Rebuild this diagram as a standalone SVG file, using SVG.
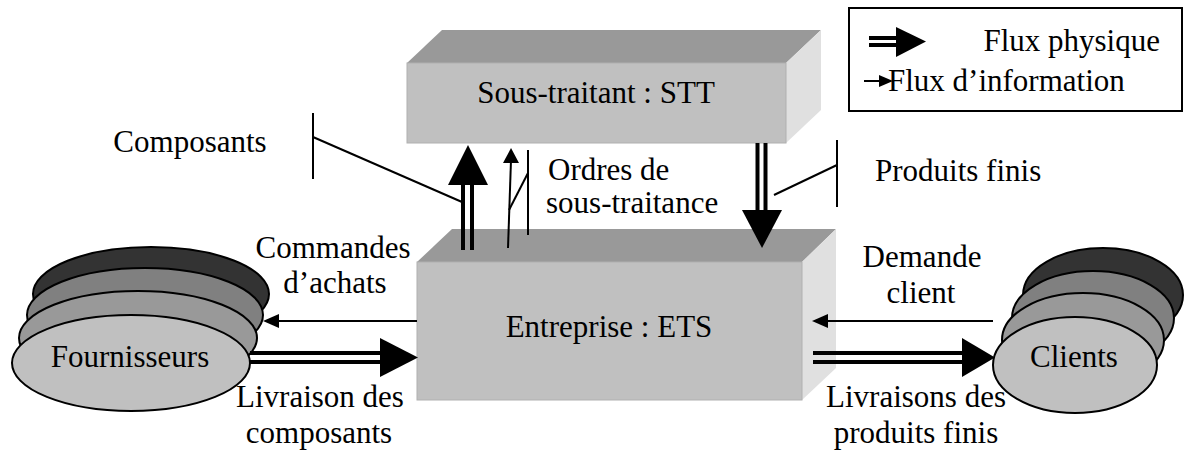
<svg xmlns="http://www.w3.org/2000/svg" width="1187" height="450" viewBox="0 0 1187 450">
  <style>
    text { font-family: "Liberation Serif", "Times New Roman", Times, serif; font-size: 31px; fill: #000; }
    .m { text-anchor: middle; }
    .front { fill: #c0c0c0; stroke: #b0b0b0; stroke-width: 1; }
    .top { fill: #999999; }
    .side { fill: #e0e0e0; }
    .ell { stroke: #000; stroke-width: 2; }
    .thin { stroke: #000; stroke-width: 2; fill: none; }
    .thick { stroke: #000; stroke-width: 4; fill: none; }
    .head { fill: #000; }
  </style>
  <rect width="1187" height="450" fill="#fff"/>

  <g id="stt">
    <polygon class="top" points="407,63 442,30 821,30 786,63"/>
    <polygon class="side" points="786,63 821,30 821,110 786,143"/>
    <rect class="front" x="407" y="63" width="379" height="80"/>
    <text class="m" x="596" y="103">Sous-traitant : STT</text>
  </g>

  <g id="ets">
    <polygon class="top" points="417,262 452,229 836,229 802,262"/>
    <polygon class="side" points="802,262 836,229 836,368 802,400"/>
    <rect class="front" x="417" y="262" width="385" height="138"/>
    <text class="m" x="609" y="337">Entreprise : ETS</text>
  </g>

  <g id="fournisseurs">
    <ellipse class="ell" cx="151" cy="294" rx="118" ry="47" fill="#333333"/>
    <ellipse class="ell" cx="145" cy="315" rx="118" ry="47" fill="#808080"/>
    <ellipse class="ell" cx="138" cy="338" rx="119" ry="47" fill="#999999"/>
    <ellipse class="ell" cx="131" cy="363" rx="119" ry="48" fill="#c0c0c0"/>
    <text class="m" x="130" y="367">Fournisseurs</text>
  </g>

  <g id="clients">
    <ellipse class="ell" cx="1103" cy="295" rx="80" ry="47" fill="#333333"/>
    <ellipse class="ell" cx="1093" cy="318" rx="81" ry="47" fill="#808080"/>
    <ellipse class="ell" cx="1083" cy="340" rx="81" ry="47" fill="#999999"/>
    <ellipse class="ell" cx="1075" cy="365" rx="82" ry="48" fill="#c0c0c0"/>
    <text class="m" x="1074" y="367">Clients</text>
  </g>

  <g id="connectors">
    <line class="thick" x1="463" y1="250" x2="463" y2="184"/>
    <line class="thick" x1="472" y1="250" x2="472" y2="184"/>
    <polygon class="head" points="448,185 488,185 468,145"/>
    <line class="thin" x1="508" y1="248" x2="511" y2="160"/>
    <polygon class="head" points="503,163 519,163 511,148"/>
    <line class="thick" x1="757.5" y1="143" x2="757.5" y2="212"/>
    <line class="thick" x1="765.5" y1="143" x2="765.5" y2="212"/>
    <polygon class="head" points="742,210 782,210 762,248"/>
    <line class="thin" x1="417" y1="321" x2="275" y2="321"/>
    <polygon class="head" points="263,321 279,314 279,328"/>
    <line class="thick" x1="250" y1="353" x2="382" y2="353"/>
    <line class="thick" x1="250" y1="362" x2="382" y2="362"/>
    <polygon class="head" points="380,338 380,377 418,357.5"/>
    <line class="thin" x1="993" y1="321" x2="824" y2="321"/>
    <polygon class="head" points="812,321 828,314 828,328"/>
    <line class="thick" x1="813" y1="353" x2="964" y2="353"/>
    <line class="thick" x1="813" y1="362" x2="964" y2="362"/>
    <polygon class="head" points="962,338 962,377 995,357.5"/>
    <polyline class="thin" points="313,113 313,179"/>
    <line class="thin" x1="313" y1="137" x2="462" y2="202"/>
    <polyline class="thin" points="528,150 528,235"/>
    <line class="thin" x1="528" y1="173" x2="509" y2="210"/>
    <polyline class="thin" points="837,140 837,207"/>
    <line class="thin" x1="837" y1="165" x2="774" y2="195"/>
  </g>

  <g id="labels">
    <text class="m" x="190" y="152">Composants</text>
    <text x="548" y="180">Ordres de</text>
    <text x="546" y="213">sous-traitance</text>
    <text x="875" y="181">Produits finis</text>
    <text class="m" x="333" y="258">Commandes</text>
    <text class="m" x="335" y="293">d’achats</text>
    <text class="m" x="320" y="407">Livraison des</text>
    <text class="m" x="319" y="443">composants</text>
    <text class="m" x="922" y="267">Demande</text>
    <text class="m" x="921" y="303">client</text>
    <text class="m" x="916" y="407">Livraisons des</text>
    <text class="m" x="916" y="443">produits finis</text>
  </g>

  <g id="legend">
    <rect x="849" y="8" width="333" height="103" fill="#fff" stroke="#000" stroke-width="2"/>
    <line class="thick" x1="869" y1="38" x2="898" y2="38"/>
    <line class="thick" x1="869" y1="45" x2="898" y2="45"/>
    <polygon class="head" points="896,27 896,57 926,41.5"/>
    <text x="1160" y="51" text-anchor="end">Flux physique</text>
    <line class="thin" x1="864" y1="81" x2="882" y2="81"/>
    <polygon class="head" points="893,81 879,75 879,87"/>
    <text x="888" y="91">Flux d’information</text>
  </g>
</svg>
